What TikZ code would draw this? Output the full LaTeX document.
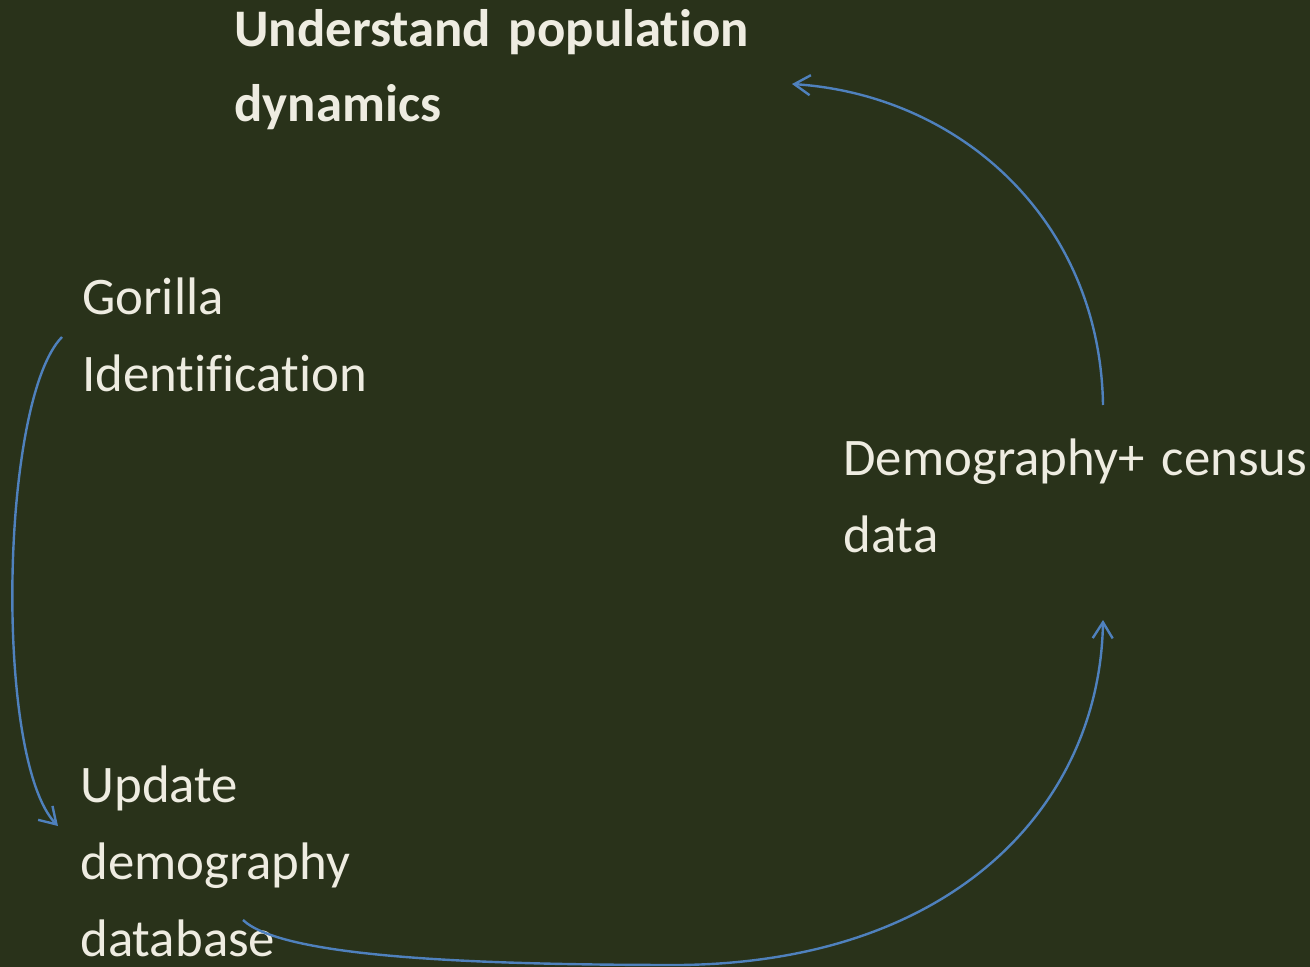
\documentclass[tikz,border=0pt]{standalone}
\usepackage{fontspec}
\setmainfont{Carlito}[Ligatures=NoCommon]
\usepackage{xcolor}
\definecolor{board}{HTML}{29321A}
\definecolor{chalk}{HTML}{EEECE1}
\definecolor{linkblue}{HTML}{4F81BD}
\usetikzlibrary{arrows.meta, positioning, calc}

\begin{document}
\begin{tikzpicture}[
  x=0.5pt, y=-0.5pt,
  label/.style={anchor=base west, inner sep=0pt, text=chalk, align=left, text width=320pt,
    font=\fontsize{26.4}{38.5}\selectfont},
  goal/.style={label, font=\fontsize{26.4}{37.5}\selectfont\bfseries},
  arr/.style={-{Straight Barb[length=8pt, width=10pt]}, linkblue, line width=1.2pt},
]
\fill[board] (0,0) rectangle (1310,967);
\useasboundingbox (0,0) rectangle (1310,967);

% Text blocks
\node[goal] (goal) at (234,47) {Understand population\\dynamics};
\node[label] (ident) at (82,315) {Gorilla\\Identification};
\node[label] (census) at (843,475) {Demography+ census\\data};
\node[label] (update) at (80,802) {Update\\demography\\database};

% Arrow ends
\coordinate (identEnd) at (62,337);
\coordinate (updateIn) at (58,826);
\coordinate (updateEnd) at (243,920);
\coordinate (censusIn) at (1103,620);
\coordinate (censusEnd) at (1103,405);
\coordinate (goalIn) at (792,84);

\draw[arr] (identEnd) .. controls (0,400) and (-6,760) .. (updateIn);
\draw[arr] (updateEnd) .. controls (280,955) and (450,965) .. (680,965)
  .. controls (960,962) and (1100,800) .. (censusIn);
\draw[arr] (censusEnd) .. controls (1100,220) and (960,95) .. (goalIn);

\end{tikzpicture}
\end{document}
